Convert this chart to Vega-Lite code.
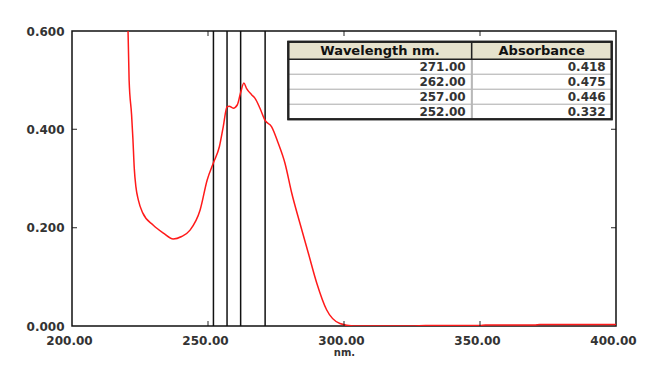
{
  "$schema": "https://vega.github.io/schema/vega-lite/v6.json",
  "width": 544,
  "height": 295,
  "autosize": {"type": "none"},
  "padding": {"left": 72, "top": 31, "right": 33, "bottom": 39},
  "background": "white",
  "config": {"view": {"stroke": "#111", "strokeWidth": 1.5}, "font": "DejaVu Sans"},
  "datasets": {
    "spectrum": [
      {"wavelength": 220.3, "absorbance": 0.70},
      {"wavelength": 220.6, "absorbance": 0.600},
      {"wavelength": 221.0, "absorbance": 0.500},
      {"wavelength": 221.9, "absorbance": 0.430},
      {"wavelength": 222.4, "absorbance": 0.380},
      {"wavelength": 222.9, "absorbance": 0.320},
      {"wavelength": 223.5, "absorbance": 0.283},
      {"wavelength": 224.4, "absorbance": 0.256},
      {"wavelength": 226.0, "absorbance": 0.230},
      {"wavelength": 229.9, "absorbance": 0.205},
      {"wavelength": 233.6, "absorbance": 0.189},
      {"wavelength": 237.2, "absorbance": 0.177},
      {"wavelength": 240.3, "absorbance": 0.182},
      {"wavelength": 243.4, "absorbance": 0.195},
      {"wavelength": 247.1, "absorbance": 0.236},
      {"wavelength": 249.7, "absorbance": 0.297},
      {"wavelength": 252.0, "absorbance": 0.332},
      {"wavelength": 254.2, "absorbance": 0.365},
      {"wavelength": 255.6, "absorbance": 0.405},
      {"wavelength": 257.0, "absorbance": 0.446},
      {"wavelength": 257.8, "absorbance": 0.447},
      {"wavelength": 259.3, "absorbance": 0.443},
      {"wavelength": 260.8, "absorbance": 0.450},
      {"wavelength": 262.0, "absorbance": 0.475},
      {"wavelength": 263.2, "absorbance": 0.494},
      {"wavelength": 264.2, "absorbance": 0.483},
      {"wavelength": 266.1, "absorbance": 0.470},
      {"wavelength": 267.3, "absorbance": 0.463},
      {"wavelength": 269.1, "absorbance": 0.443},
      {"wavelength": 271.0, "absorbance": 0.418},
      {"wavelength": 273.4, "absorbance": 0.405},
      {"wavelength": 275.8, "absorbance": 0.372},
      {"wavelength": 278.3, "absorbance": 0.331},
      {"wavelength": 280.8, "absorbance": 0.270},
      {"wavelength": 283.8, "absorbance": 0.209},
      {"wavelength": 286.9, "absorbance": 0.148},
      {"wavelength": 290.0, "absorbance": 0.087},
      {"wavelength": 293.6, "absorbance": 0.033},
      {"wavelength": 298.5, "absorbance": 0.005},
      {"wavelength": 303.4, "absorbance": 0.000},
      {"wavelength": 325.0, "absorbance": 0.000},
      {"wavelength": 330.0, "absorbance": 0.001},
      {"wavelength": 350.0, "absorbance": 0.001},
      {"wavelength": 352.0, "absorbance": 0.002},
      {"wavelength": 370.0, "absorbance": 0.002},
      {"wavelength": 372.0, "absorbance": 0.003},
      {"wavelength": 400.0, "absorbance": 0.003}
    ],
    "peaks": [
      {"wavelength": 271, "absorbance": 0.418},
      {"wavelength": 262, "absorbance": 0.475},
      {"wavelength": 257, "absorbance": 0.446},
      {"wavelength": 252, "absorbance": 0.332}
    ],
    "xticks": [{"wavelength": 250}, {"wavelength": 300}, {"wavelength": 350}],
    "yticks": [{"absorbance": 0.2}, {"absorbance": 0.4}],
    "header": [
      {"c": 0, "label": "Wavelength nm."},
      {"c": 1, "label": "Absorbance"}
    ]
  },
  "layer": [
    {
      "layer": [
        {
          "data": {"name": "peaks"},
          "mark": {"type": "rule", "color": "#111", "strokeWidth": 1.5},
          "encoding": {
            "x": {
              "field": "wavelength", "type": "quantitative",
              "scale": {"domain": [200, 400], "nice": false, "zero": false},
              "axis": {
                "orient": "bottom", "values": [200, 250, 300, 350, 400], "format": ".2f",
                "title": "nm.", "domain": false, "grid": false, "ticks": false,
                "labelPadding": 9, "labelFont": "DejaVu Sans", "labelFontSize": 12,
                "labelFontWeight": "bold", "labelColor": "#333", "labelOffset": -3, "labelFlush": false,
                "labelOverlap": false, "titleFont": "DejaVu Sans", "titleFontSize": 10,
                "titleFontWeight": "bold", "titleColor": "#333", "titlePadding": 1
              }
            }
          }
        },
        {
          "data": {"name": "spectrum"},
          "mark": {"type": "line", "color": "#ff1a1a", "strokeWidth": 1.5, "clip": true, "interpolate": "monotone"},
          "encoding": {
            "x": {"field": "wavelength", "type": "quantitative"},
            "y": {
              "field": "absorbance", "type": "quantitative",
              "scale": {"domain": [0, 0.6], "nice": false},
              "axis": {
                "orient": "left", "values": [0, 0.2, 0.4, 0.6], "format": ".3f", "title": null,
                "domain": false, "grid": false, "ticks": false,
                "labelPadding": 8, "labelFont": "DejaVu Sans", "labelFontSize": 12,
                "labelFontWeight": "bold", "labelColor": "#333", "labelFlush": false, "labelOverlap": false
              }
            }
          }
        },
        {
          "data": {"name": "xticks"},
          "mark": {"type": "tick", "orient": "vertical", "color": "#111", "size": 10, "thickness": 1.3, "clip": true},
          "encoding": {
            "x": {"field": "wavelength", "type": "quantitative"},
            "y": {"datum": 0, "type": "quantitative"}
          }
        },
        {
          "data": {"name": "xticks"},
          "mark": {"type": "tick", "orient": "vertical", "color": "#111", "size": 10, "thickness": 1.3, "clip": true},
          "encoding": {
            "x": {"field": "wavelength", "type": "quantitative"},
            "y": {"datum": 0.6, "type": "quantitative"}
          }
        },
        {
          "data": {"name": "yticks"},
          "mark": {"type": "tick", "orient": "horizontal", "color": "#111", "size": 10, "thickness": 1.3, "clip": true},
          "encoding": {
            "y": {"field": "absorbance", "type": "quantitative"},
            "x": {"datum": 200, "type": "quantitative"}
          }
        },
        {
          "data": {"name": "yticks"},
          "mark": {"type": "tick", "orient": "horizontal", "color": "#111", "size": 10, "thickness": 1.3, "clip": true},
          "encoding": {
            "y": {"field": "absorbance", "type": "quantitative"},
            "x": {"datum": 400, "type": "quantitative"}
          }
        }
      ]
    },
    {
      "layer": [
        {
          "data": {"name": "peaks"},
          "transform": [
            {"window": [{"op": "row_number", "as": "r"}]},
            {"calculate": "datum.r + 1", "as": "r2"}
          ],
          "mark": {"type": "rect", "fill": "white", "stroke": "#b8b8b8", "strokeWidth": 1},
          "encoding": {
            "x": {"datum": 0, "type": "quantitative",
                  "scale": {"type": "linear", "domain": [0, 1, 2], "range": [216.3, 399.7, 539.7], "nice": false, "zero": false},
                  "axis": null},
            "x2": {"datum": 2},
            "y": {"field": "r", "type": "quantitative",
                  "scale": {"type": "linear", "domain": [0, 1, 5], "range": [10.7, 28.3, 88.3], "nice": false, "zero": false},
                  "axis": null},
            "y2": {"field": "r2"}
          }
        },
        {
          "data": {"name": "peaks"},
          "mark": {"type": "rule", "color": "#b8b8b8", "strokeWidth": 1.5},
          "encoding": {
            "x": {"datum": 1, "type": "quantitative"},
            "y": {"datum": 1, "type": "quantitative"},
            "y2": {"datum": 5}
          }
        },
        {
          "data": {"name": "header"},
          "transform": [{"calculate": "datum.c + 1", "as": "c2"}],
          "mark": {"type": "rect", "fill": "#e6e2cd", "stroke": "#222", "strokeWidth": 1.5},
          "encoding": {
            "x": {"field": "c", "type": "quantitative"},
            "x2": {"field": "c2"},
            "y": {"datum": 0, "type": "quantitative"},
            "y2": {"datum": 1}
          }
        },
        {
          "data": {"name": "header"},
          "mark": {"type": "rect", "fill": null, "fillOpacity": 0, "stroke": "#222", "strokeWidth": 2},
          "encoding": {
            "x": {"datum": 0, "type": "quantitative"},
            "x2": {"datum": 2},
            "y": {"datum": 0, "type": "quantitative"},
            "y2": {"datum": 5}
          }
        },
        {
          "data": {"name": "header"},
          "transform": [{"calculate": "datum.c + 0.5", "as": "cm"}],
          "mark": {"type": "text", "font": "DejaVu Sans", "fontSize": 13, "fontWeight": "bold", "color": "#111", "baseline": "middle", "align": "center"},
          "encoding": {
            "x": {"field": "cm", "type": "quantitative"},
            "y": {"datum": 0.5, "type": "quantitative"},
            "text": {"field": "label"}
          }
        },
        {
          "data": {"name": "peaks"},
          "transform": [
            {"window": [{"op": "row_number", "as": "r"}]},
            {"calculate": "datum.r + 0.5", "as": "rm"}
          ],
          "mark": {"type": "text", "font": "DejaVu Sans", "fontSize": 12, "fontWeight": "bold", "color": "#333", "baseline": "middle", "align": "right", "dx": -6},
          "encoding": {
            "x": {"datum": 1, "type": "quantitative"},
            "y": {"field": "rm", "type": "quantitative"},
            "text": {"field": "wavelength", "type": "quantitative", "format": ".2f"}
          }
        },
        {
          "data": {"name": "peaks"},
          "transform": [
            {"window": [{"op": "row_number", "as": "r"}]},
            {"calculate": "datum.r + 0.5", "as": "rm"}
          ],
          "mark": {"type": "text", "font": "DejaVu Sans", "fontSize": 12, "fontWeight": "bold", "color": "#333", "baseline": "middle", "align": "right", "dx": -6},
          "encoding": {
            "x": {"datum": 2, "type": "quantitative"},
            "y": {"field": "rm", "type": "quantitative"},
            "text": {"field": "absorbance", "type": "quantitative", "format": ".3f"}
          }
        }
      ]
    }
  ],
  "resolve": {"scale": {"x": "independent", "y": "independent"}}
}
